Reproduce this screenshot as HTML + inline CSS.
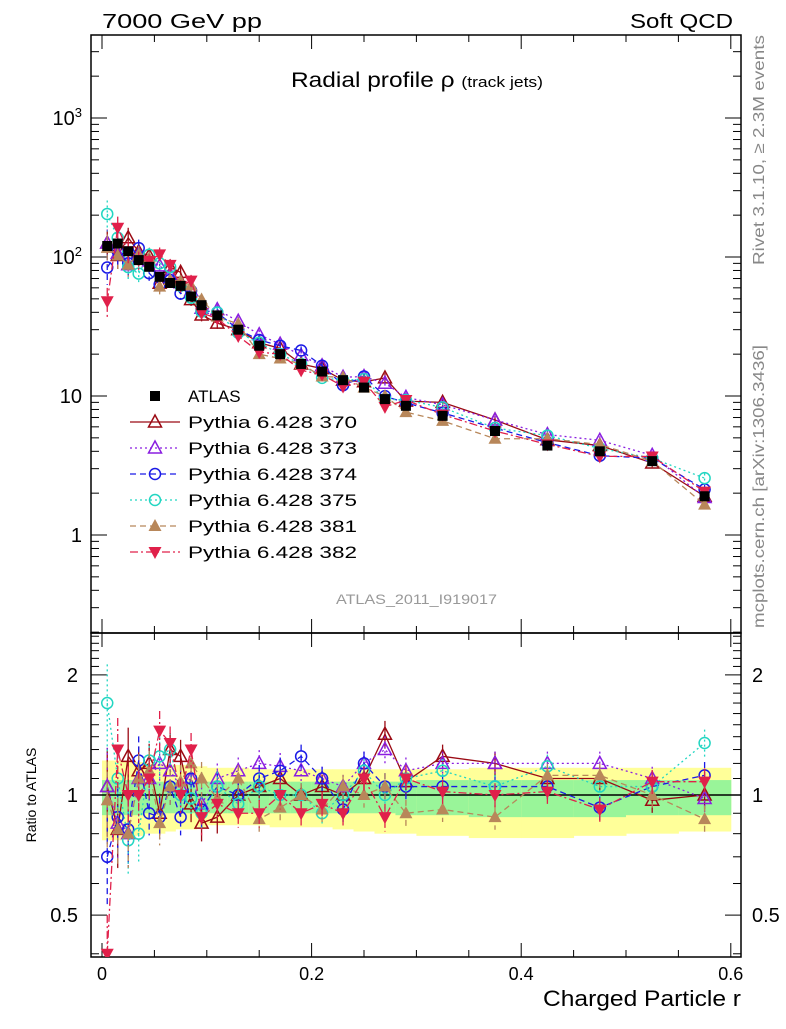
<!DOCTYPE html>
<html><head><meta charset="utf-8"><style>
body{margin:0;background:#fff}
svg text{font-family:"Liberation Sans",sans-serif}
</style></head><body>
<svg id="c" width="786" height="1024" xmlns="http://www.w3.org/2000/svg">
<defs>
<clipPath id="cm"><rect x="91" y="35" width="650" height="598"/></clipPath>
<clipPath id="cr"><rect x="91" y="633" width="650" height="324"/></clipPath>
</defs>
<rect width="786" height="1024" fill="#fff"/>
<g id="bands"></g>
<g id="axes"></g>
<g id="series"></g>
<text x="102" y="28" font-size="20" textLength="160" lengthAdjust="spacingAndGlyphs">7000 GeV pp</text>
<text x="630" y="28" font-size="20" textLength="103" lengthAdjust="spacingAndGlyphs">Soft QCD</text>
<text x="291" y="87" font-size="21" textLength="252" lengthAdjust="spacingAndGlyphs">Radial profile ρ <tspan font-size="15">(track jets)</tspan></text>
<text x="336" y="604" font-size="14" fill="#999" textLength="161" lengthAdjust="spacingAndGlyphs">ATLAS_2011_I919017</text>
<text transform="translate(764,265) rotate(-90)" font-size="16" fill="#888" textLength="230" lengthAdjust="spacingAndGlyphs">Rivet 3.1.10, ≥ 2.3M events</text>
<text transform="translate(764,628) rotate(-90)" font-size="16" fill="#888" textLength="283" lengthAdjust="spacingAndGlyphs">mcplots.cern.ch [arXiv:1306.3436]</text>
<text transform="translate(36,795) rotate(-90)" font-size="14" text-anchor="middle">Ratio to ATLAS</text>
<text x="543" y="1006" font-size="22" textLength="198" lengthAdjust="spacingAndGlyphs">Charged Particle r</text>
<g id="legend"></g>
</svg>
<script>
const xs=[0.005,0.015,0.025,0.035,0.045,0.055,0.065,0.075,0.085,0.095,0.11,0.13,0.15,0.17,0.19,0.21,0.23,0.25,0.27,0.29,0.325,0.375,0.425,0.475,0.525,0.575];
const atlas=[120,125,110,95,85,72,65,62,52,45,38,30,23,20,17,15,13,11.5,9.5,8.5,7.2,5.6,4.4,4.0,3.4,1.9];
const r370=[1.05,0.82,1.25,1.15,1.2,0.9,1.3,1.25,0.95,0.85,0.88,1.0,1.05,1.1,1.0,1.05,1.0,1.1,1.42,1.08,1.25,1.2,1.1,1.1,0.97,1.0];
const r373=[1.05,0.85,0.8,1.1,1.1,1.2,1.15,1.05,1.1,0.95,1.1,1.15,1.2,1.18,1.15,1.1,1.05,1.2,1.3,1.15,1.2,1.2,1.2,1.2,1.1,0.98];
const r374=[0.7,0.88,0.82,1.22,0.9,0.88,1.05,0.88,1.1,0.92,1.05,1.0,1.1,1.15,1.25,1.1,0.92,1.2,1.05,1.05,1.05,1.05,1.05,0.93,1.05,1.12];
const r375=[1.7,1.1,0.77,0.8,1.22,1.25,1.3,1.0,0.98,0.9,1.05,0.95,1.05,1.0,1.0,0.9,1.0,1.15,1.0,1.1,1.15,1.05,1.18,1.05,1.05,1.35];
const r381=[0.97,0.82,0.8,1.1,1.15,0.85,1.05,1.08,1.2,1.1,0.98,1.1,0.87,0.93,1.0,0.92,1.05,1.0,1.05,0.9,0.92,0.88,1.12,1.12,1.0,0.87];
const r382=[0.4,1.3,1.0,1.0,1.1,1.45,1.35,1.0,1.3,0.88,0.95,0.9,0.9,1.0,0.9,0.95,0.9,1.1,0.88,1.1,1.02,1.0,1.02,0.92,1.08,1.08];
const relErr=[0.25,0.2,0.18,0.15,0.12,0.12,0.1,0.1,0.1,0.1,0.09,0.08,0.08,0.08,0.07,0.07,0.07,0.07,0.08,0.08,0.07,0.07,0.07,0.07,0.07,0.08];
const bandYHi=[1.22,1.22,1.22,1.21,1.2,1.2,1.19,1.19,1.18,1.18,1.17,1.17,1.16,1.16,1.16,1.16,1.16,1.16,1.16,1.16,1.16,1.17,1.17,1.17,1.17,1.17];
const bandYLo=[0.77,0.77,0.78,0.79,0.8,0.8,0.81,0.82,0.82,0.83,0.84,0.84,0.84,0.83,0.83,0.83,0.82,0.81,0.8,0.8,0.79,0.78,0.78,0.79,0.8,0.81];
const bandGHi=[1.09,1.09,1.09,1.09,1.08,1.08,1.08,1.08,1.08,1.08,1.08,1.08,1.08,1.08,1.08,1.08,1.08,1.08,1.08,1.08,1.09,1.09,1.09,1.09,1.09,1.09];
const bandGLo=[0.89,0.89,0.89,0.89,0.9,0.9,0.9,0.9,0.9,0.9,0.9,0.9,0.9,0.9,0.9,0.9,0.9,0.9,0.9,0.89,0.89,0.88,0.88,0.88,0.89,0.89];
const edges=[0,0.01,0.02,0.03,0.04,0.05,0.06,0.07,0.08,0.09,0.1,0.12,0.14,0.16,0.18,0.2,0.22,0.24,0.26,0.28,0.3,0.35,0.4,0.45,0.5,0.55,0.6];
const xTicks=[0,0.2,0.4,0.6];
const rTicks=[0.5,1,2];

const NS="http://www.w3.org/2000/svg";
const X=v=>102+v*1048;
const Y=v=>535-Math.log10(v)*139;
const R=v=>795-Math.log10(v)*399;
const T=35,M=633,B=957;
function el(tag,attrs,parent){const e=document.createElementNS(NS,tag);for(const k in attrs)e.setAttribute(k,attrs[k]);parent.appendChild(e);return e;}
const bands=document.getElementById('bands'),axes=document.getElementById('axes'),ser=document.getElementById('series'),leg=document.getElementById('legend');

for(let i=0;i<xs.length;i++){
  const x0=X(edges[i]),x1=X(edges[i+1]);
  const b=el('rect',{x:x0,y:R(bandYHi[i]),width:x1-x0+0.5,height:R(bandYLo[i])-R(bandYHi[i]),fill:'#ffff99'},bands);
  
  
  const g=el('rect',{x:x0,y:R(bandGHi[i]),width:x1-x0+0.5,height:R(bandGLo[i])-R(bandGHi[i]),fill:'#99f599'},bands);
  
  
}
el('line',{x1:91,x2:741,y1:R(1),y2:R(1),stroke:'#000','stroke-width':1.5},axes);
for(const [y0,y1] of [[35,633],[633,957]]){
  el('rect',{x:91,y:y0,width:650,height:y1-y0,fill:'none',stroke:'#000','stroke-width':1.5},axes);
}
for(let k=0;k<=12;k++){
  const v=k*0.05;
  const len=(k%4===0)?14:7;
  for(const [yb,dir] of [[633,-1],[957,-1],[35,1],[633,1]]){
    el('line',{x1:X(v),x2:X(v),y1:yb,y2:yb+dir*len,stroke:'#000','stroke-width':1},axes);
  }
}
xTicks.forEach(v=>{
  const t=el('text',{x:X(v),y:980,'font-size':18,'text-anchor':'middle'},axes);t.textContent=v===0?'0':String(v);
  
  
});
for(let d=-1;d<=3;d++){for(let m=1;m<10;m++){const v=m*Math.pow(10,d);const y=Y(v);if(y<T||y>M)continue;const len=m===1?16:8;
  el('line',{x1:91,x2:91+len,y1:y,y2:y,stroke:'#000'},axes);el('line',{x1:741,x2:741-len,y1:y,y2:y,stroke:'#000'},axes);}}
[[1,"1"],[10,"10"],[100,"10<tspan dy='-8' font-size='13'>2</tspan>"],[1000,"10<tspan dy='-8' font-size='13'>3</tspan>"]].forEach(([v,s])=>{
  const t=el('text',{x:82,y:Y(v)+7,'font-size':20,'text-anchor':'end'},axes);t.innerHTML=s;
  
  
});
for(let k=4;k<=25;k++){const v=k/10;const y=R(v);if(y<M||y>B)continue;const maj=(k===5||k===10||k===20);const len=maj?16:8;
  el('line',{x1:91,x2:91+len,y1:y,y2:y,stroke:'#000'},axes);el('line',{x1:741,x2:741-len,y1:y,y2:y,stroke:'#000'},axes);}
rTicks.forEach(v=>{
  const t=el('text',{x:78,y:R(v)+7,'font-size':20,'text-anchor':'end'},axes);t.textContent=String(v);
  
  
  const t2=el('text',{x:752,y:R(v)+7,'font-size':20},axes);t2.textContent=String(v);
  
  
});

function marker(type,x,y,col,p){
  if(type==='sq')return el('rect',{x:x-5,y:y-5,width:10,height:10,fill:col},p);
  if(type==='circ')return el('circle',{cx:x,cy:y,r:5.5,fill:'none',stroke:col,'stroke-width':1.5},p);
  if(type==='tri')return el('polygon',{points:`${x},${y-7} ${x-6.5},${y+5} ${x+6.5},${y+5}`,fill:'none',stroke:col,'stroke-width':1.5},p);
  if(type==='triF')return el('polygon',{points:`${x},${y-7} ${x-6.5},${y+5} ${x+6.5},${y+5}`,fill:col},p);
  if(type==='triD')return el('polygon',{points:`${x},${y+7} ${x-6.5},${y-5} ${x+6.5},${y-5}`,fill:col},p);
}
const series=[
 {name:'Pythia 6.428 370',r:r370,col:'#9b0a14',m:'tri',dash:''},
 {name:'Pythia 6.428 373',r:r373,col:'#8a1ee0',m:'tri',dash:'2,3'},
 {name:'Pythia 6.428 374',r:r374,col:'#1a1ae6',m:'circ',dash:'6,4'},
 {name:'Pythia 6.428 375',r:r375,col:'#22d6c2',m:'circ',dash:'2,3'},
 {name:'Pythia 6.428 381',r:r381,col:'#b8875a',m:'triF',dash:'6,4'},
 {name:'Pythia 6.428 382',r:r382,col:'#e0204a',m:'triD',dash:'8,3,2,3'},
];
series.forEach((s,si)=>{
  const g=el('g',{},ser);
  
  
  const gm=el('g',{'clip-path':'url(#cm)'},g);
  const gr=el('g',{'clip-path':'url(#cr)'},g);
  const main=xs.map((x,i)=>[X(x),Y(atlas[i]*s.r[i])]);
  const rat=xs.map((x,i)=>[X(x),R(s.r[i])]);
  el('polyline',{points:main.map(p=>p.join(',')).join(' '),fill:'none',stroke:s.col,'stroke-width':1.3,'stroke-dasharray':s.dash},gm);
  el('polyline',{points:rat.map(p=>p.join(',')).join(' '),fill:'none',stroke:s.col,'stroke-width':1.3,'stroke-dasharray':s.dash},gr);
  xs.forEach((x,i)=>{
    const e=relErr[i];
    const v=atlas[i]*s.r[i];
    el('line',{x1:X(x),x2:X(x),y1:Y(v*(1+e)),y2:Y(v*(1-e)),stroke:s.col,'stroke-width':1.3,'stroke-dasharray':s.dash},gm);
    el('line',{x1:X(x),x2:X(x),y1:R(s.r[i]*(1+e)),y2:R(s.r[i]*(1-e)),stroke:s.col,'stroke-width':1.3,'stroke-dasharray':s.dash},gr);
    const m1=marker(s.m,X(x),Y(v),s.col,gm);
    
    
    const m2=marker(s.m,X(x),R(s.r[i]),s.col,gr);
    
    
  });
  const ly=422+si*26;
  el('line',{x1:130,x2:180,y1:ly,y2:ly,stroke:s.col,'stroke-width':1.3,'stroke-dasharray':s.dash},leg);
  marker(s.m,155,ly,s.col,leg);
  const t=el('text',{x:188,y:ly+6,'font-size':17,textLength:169,lengthAdjust:'spacingAndGlyphs'},leg);t.textContent=s.name;
  
  
});
const dg=el('g',{},ser);


xs.forEach((x,i)=>{
  const d=marker('sq',X(x),Y(atlas[i]),'#000',dg);
  
  
});
marker('sq',155,396,'#000',leg);
const at=el('text',{x:188,y:402,'font-size':17},leg);at.textContent='ATLAS';


</script>
</body></html>
